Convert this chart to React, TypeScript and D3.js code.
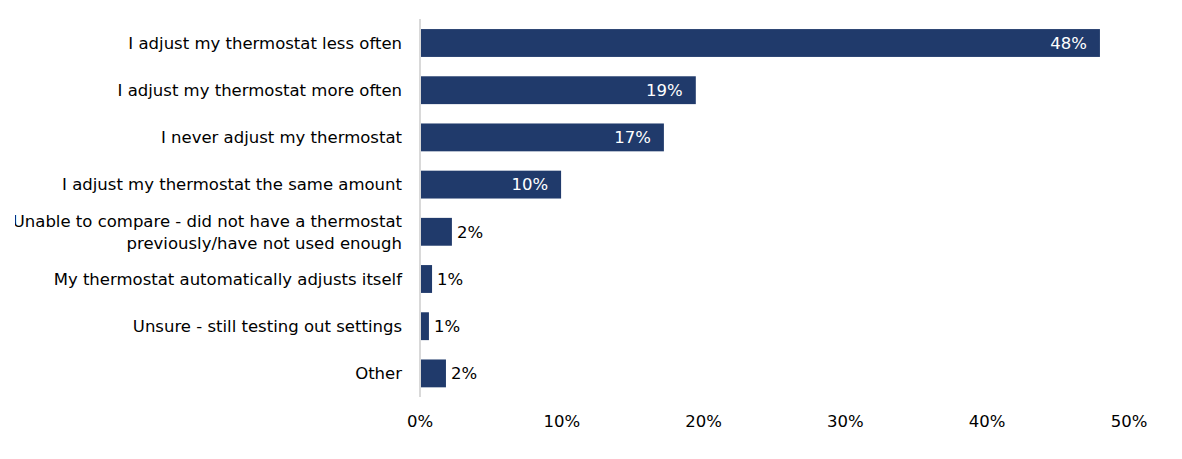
import React from "react";
import * as d3 from "d3";

const categories: string[][] = [
  ["I adjust my thermostat less often"],
  ["I adjust my thermostat more often"],
  ["I never adjust my thermostat"],
  ["I adjust my thermostat the same amount"],
  ["Unable to compare - did not have a thermostat", "previously/have not used enough"],
  ["My thermostat automatically adjusts itself"],
  ["Unsure - still testing out settings"],
  ["Other"],
];
const values: number[] = [47.95, 19.45, 17.2, 9.95, 2.25, 0.85, 0.63, 1.83];
const valueLabels: string[] = ["48%", "19%", "17%", "10%", "2%", "1%", "1%", "2%"];
const ticks: number[] = [0, 10, 20, 30, 40, 50];

const W = 1182;
const H = 459;
const FONT = "'DejaVu Sans', sans-serif";
const BAR = "#203A6B";
const FS = 16.5;

export default function App() {
  const x = d3.scaleLinear().domain([0, 50]).range([420, 1129]);
  const y = d3
    .scaleBand<number>()
    .domain(d3.range(categories.length))
    .range([19.4, 397])
    .paddingInner(0.41)
    .paddingOuter(0.205);
  const bw = y.bandwidth();
  return (
    <svg
      width={W}
      height={H}
      style={{ position: "absolute", left: 0, top: 0, fontFamily: FONT }}
    >
      <defs>
        <clipPath id="labelClip">
          <rect x={15} y={0} width={W - 15} height={H} />
        </clipPath>
      </defs>
      <rect x={0} y={0} width={W} height={H} fill="#fff" />
      {values.map((v, i) => {
        const y0 = y(i)!;
        const cy = y0 + bw / 2;
        const xe = x(v);
        const inside = v > 5;
        return (
          <g key={i}>
            <rect x={x(0)} y={y0} width={xe - x(0)} height={bw} fill={BAR} />
            <text
              x={inside ? xe - 13 : xe + 5}
              y={cy}
              dy="0.35em"
              fontSize={FS}
              fill={inside ? "#fff" : "#000"}
              textAnchor={inside ? "end" : "start"}
            >
              {valueLabels[i]}
            </text>
          </g>
        );
      })}
      <line x1={420} x2={420} y1={19} y2={397} stroke="#D9D9D9" strokeWidth={2} />
      <g clipPath="url(#labelClip)">
        {categories.map((lines, i) => {
          const cy = y(i)! + bw / 2;
          const lh = 22;
          const start = cy - ((lines.length - 1) * lh) / 2;
          return (
            <text key={i} textAnchor="end" fontSize={FS} fill="#000">
              {lines.map((l, j) => (
                <tspan key={j} x={402} y={start + j * lh} dy="0.35em">
                  {l}
                </tspan>
              ))}
            </text>
          );
        })}
      </g>
      {ticks.map((t) => (
        <text
          key={t}
          x={x(t)}
          y={421}
          dy="0.35em"
          textAnchor="middle"
          fontSize={FS}
          fill="#000"
        >
          {t}%
        </text>
      ))}
    </svg>
  );
}
